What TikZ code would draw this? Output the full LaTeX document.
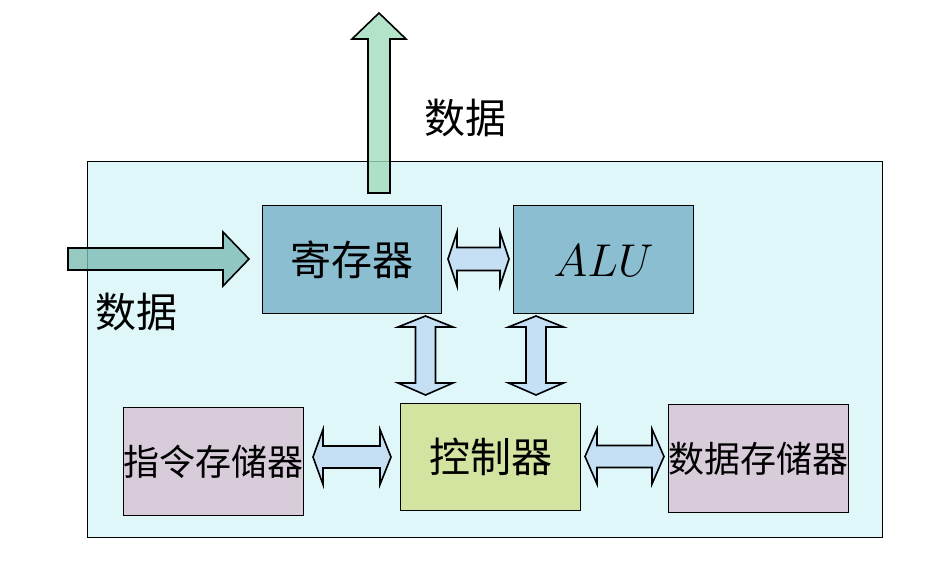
\documentclass[tikz,border=0pt]{standalone}
\usepackage{fix-cm}
\usepackage{fontspec}
\newfontfamily\cjk{Noto Sans CJK SC}
\definecolor{bgcyan}{RGB}{224,247,250}
\definecolor{regblue}{RGB}{139,190,208}
\definecolor{ctrlgreen}{RGB}{211,228,160}
\definecolor{memlilac}{RGB}{216,204,218}
\definecolor{dblblue}{RGB}{197,224,245}
\definecolor{upgreen}{RGB}{160,220,188}
\definecolor{rtteal}{RGB}{125,188,180}
\tikzset{
  unitbox/.style={draw=black, line width=1pt, inner sep=0pt, anchor=north west},
  bigtxt/.style={font=\fontsize{41}{41}\selectfont\cjk},
  smalltxt/.style={font=\fontsize{36}{36}\selectfont\cjk},
  fatarrow/.style={draw=black, line width=1.6pt, line join=miter},
  dblarrow/.style={fatarrow, fill=dblblue},
}
% horizontal double arrow: #1 tipL, #2 baseL, #3 baseR, #4 tipR, #5 yc, #6 shaft half, #7 head half
\newcommand\hdblarrow[7]{%
  \draw[dblarrow] (#1,#5) -- (#2,#5-#7) -- (#2,#5-#6) -- (#3,#5-#6) -- (#3,#5-#7) -- (#4,#5)
    -- (#3,#5+#7) -- (#3,#5+#6) -- (#2,#5+#6) -- (#2,#5+#7) -- cycle;}
% vertical double arrow: #1 tipT, #2 baseT, #3 baseB, #4 tipB, #5 xc, #6 shaft half, #7 head half
\newcommand\vdblarrow[7]{%
  \draw[dblarrow] (#5,#1) -- (#5+#7,#2) -- (#5+#6,#2) -- (#5+#6,#3) -- (#5+#7,#3) -- (#5,#4)
    -- (#5-#7,#3) -- (#5-#6,#3) -- (#5-#6,#2) -- (#5-#7,#2) -- cycle;}
\begin{document}
\begin{tikzpicture}[x=1pt, y=-1pt]
\useasboundingbox (0,0) rectangle (929,564);
% outer frame
\node[unitbox, fill=bgcyan, minimum width=795pt, minimum height=376pt] (frame) at (87,161) {};
% boxes
\node[unitbox, fill=regblue, minimum width=179pt, minimum height=108pt] (reg) at (262,205) {};
\node[bigtxt] at (reg.center) {寄存器};
\node[unitbox, fill=regblue, minimum width=180pt, minimum height=108pt] (alu) at (513,205) {};
\node[font=\fontsize{46}{46}\selectfont] at ([yshift=-1pt]alu.center) {$ALU$};
\node[unitbox, fill=ctrlgreen, minimum width=180pt, minimum height=107pt] (ctrl) at (400,403) {};
\node[bigtxt] at (ctrl.center) {控制器};
\node[unitbox, fill=memlilac, minimum width=180pt, minimum height=108pt] (imem) at (123,407) {};
\node[smalltxt] at (imem.center) {指令存储器};
\node[unitbox, fill=memlilac, minimum width=180pt, minimum height=108pt] (dmem) at (668,404) {};
\node[smalltxt] at (dmem.center) {数据存储器};
% double arrows
\hdblarrow{448}{457}{500}{509}{259}{11.5}{27}
\hdblarrow{313}{323}{380}{391}{457}{11}{27.5}
\hdblarrow{585}{597}{652}{664}{456.5}{11}{27.5}
\vdblarrow{316}{327}{383}{395}{425.5}{10}{27.5}
\vdblarrow{316}{327}{383}{395}{536}{10}{27.5}
% data in/out arrows
\draw[fatarrow, fill=upgreen, fill opacity=0.8] (368,193) -- (368,39) -- (352,39) -- (379,13)
  -- (406,39) -- (390,39) -- (390,193) -- cycle;
\draw[fatarrow, fill=rtteal, fill opacity=0.8] (68,248) -- (223,248) -- (223,232) -- (249,259)
  -- (223,286) -- (223,270) -- (68,270) -- cycle;
% labels
\node[bigtxt] (outlbl) at (465,118) {数据};
\node[bigtxt] (inlbl) at (136,312) {数据};
\end{tikzpicture}
\end{document}
